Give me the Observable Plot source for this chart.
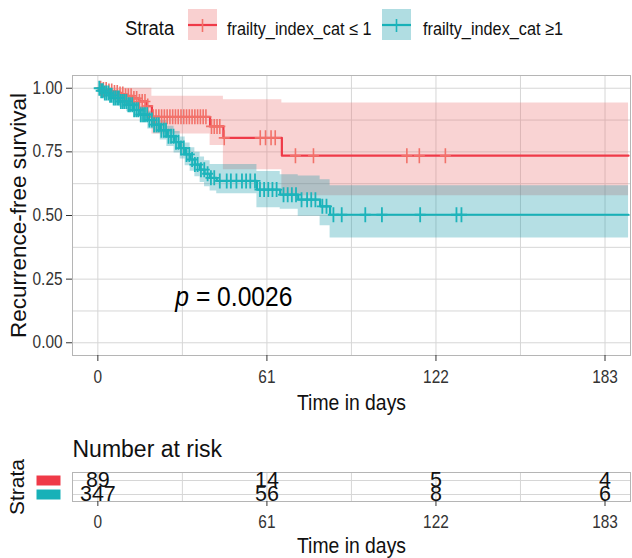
<!DOCTYPE html>
<html>
<head>
<meta charset="utf-8">
<script src="https://cdn.jsdelivr.net/npm/d3@7"></script>
<script src="https://cdn.jsdelivr.net/npm/@observablehq/plot@0.6"></script>
<style>
  body { margin: 0; background: #fff; }
  #root { position: relative; width: 632px; height: 558px; overflow: hidden; background: #fff; }
  #root > * { position: absolute; left: 0; }
</style>
</head>
<body>
<div id="root"></div>
<script>
const FONT = '"Liberation Sans", Arial, Helvetica, sans-serif';
const SQUISH = 0.88; // reference text is horizontally condensed

// ---- data ----
const strataLabels = ["frailty_index_cat ≤ 1", "frailty_index_cat ≥1"];
const lineColors   = ["#EF3A48", "#17B1B8"];
const markColors   = ["#F2726A", "#1DB4BB"];
const bandColors   = ["#EB6C6C", "#0A96A6"];

// stratum 1: frailty_index_cat <= 1
const redTime  = [0, 2, 4, 6, 8, 10, 12.5, 15, 17.5, 19.5, 40.5, 45.3, 66.4];
const redSurv  = [1.0, 0.995, 0.989, 0.983, 0.977, 0.97, 0.96, 0.948, 0.93, 0.888, 0.85, 0.805, 0.735];
const redUpper = [1.0, 1.0, 1.0, 1.0, 1.0, 1.0, 1.0, 1.0, 1.0, 0.968, 0.968, 0.955, 0.942];
const redLower = [1.0, 0.985, 0.972, 0.962, 0.952, 0.938, 0.922, 0.905, 0.882, 0.82, 0.775, 0.68, 0.578];
const redCensor = [1, 2, 3, 4, 5, 6, 7, 8, 9, 10, 11, 12, 13, 14, 15, 16, 17, 18,
  20, 21, 22, 23, 24, 25, 26, 27, 28, 29, 30, 31, 32, 33, 34, 35, 36, 37, 38, 39,
  41, 42, 43, 44, 45.6, 58.6, 60.5, 62.5, 64, 71.3, 77.8, 111.5, 116, 125.4];

// stratum 2: frailty_index_cat >= 1
const tealTime  = [0, 1, 2, 4, 5.6, 8, 10.4, 13, 15.3, 18, 20.1, 22.5, 24.9, 27.5, 29.7, 31.5, 33.3, 35, 36.9, 38.5, 40.5, 42.9, 57.4, 65.8, 72.3, 80.2, 83.8];
const tealSurv  = [1.0, 0.99, 0.981, 0.972, 0.962, 0.948, 0.935, 0.915, 0.896, 0.875, 0.857, 0.835, 0.811, 0.788, 0.765, 0.74, 0.72, 0.70, 0.68, 0.664, 0.648, 0.636, 0.602, 0.582, 0.562, 0.536, 0.503];
const tealUpper = [1.0, 1.0, 0.995, 0.99, 0.983, 0.972, 0.962, 0.945, 0.928, 0.91, 0.893, 0.873, 0.851, 0.83, 0.808, 0.785, 0.766, 0.748, 0.73, 0.715, 0.70, 0.70, 0.673, 0.66, 0.655, 0.64, 0.617];
const tealLower = [1.0, 0.98, 0.967, 0.954, 0.941, 0.924, 0.908, 0.885, 0.864, 0.84, 0.821, 0.797, 0.771, 0.746, 0.722, 0.695, 0.674, 0.652, 0.63, 0.613, 0.596, 0.585, 0.53, 0.525, 0.497, 0.46, 0.412];
const tealCensor = [0.5, 1.2, 1.8, 2.5, 3.1, 3.8, 4.4, 5, 5.7, 6.3, 7, 7.6, 8.3, 9, 9.6, 10.3, 11, 11.6, 12.4, 13.1,
  13.9, 14.6, 15.5, 16.3, 17, 17.8, 18.6, 19.5, 20.3, 21.2, 22, 22.9, 23.8, 24.6, 25.5, 26.4, 27.3, 28.2, 29.1, 30,
  31, 32, 33, 34, 35, 36, 37.2, 38.4, 39.6, 40.8, 42, 44, 46.5, 48, 50, 52, 53.5, 55, 56.7, 58.5, 60, 61.5, 63, 64.5,
  67, 68.5, 70, 71.5, 73.5, 75.5, 77, 78.5, 81, 82.5, 85, 88, 96.5, 102.5, 116.3, 129.4, 131.2];

const lastFollowUp = 191.5;

const riskTimes = [0, 61, 122, 183];
const riskRed   = [89, 14, 5, 4];
const riskTeal  = [347, 56, 8, 6];

const xTicks = [0, 61, 122, 183];
const xGrid  = [0, 30.5, 61, 91.5, 122, 152.5, 183];
const yTicks = [0, 0.25, 0.5, 0.75, 1];
const yGrid  = [0, 0.125, 0.25, 0.375, 0.5, 0.625, 0.75, 0.875, 1];
const xDomain = [-9.15, 192.2];
const yDomain = [-0.05, 1.05];

const xTitle = "Time in days";
const yTitle = "Recurrence-free survival";
const riskTitle = "Number at risk";
const legendTitle = "Strata";
const pValueText = "p = 0.0026";
const pValuePos = {t: 28, s: 0.18};

// ---- build tables ----
function curveRows(times, surv, up, lo, label) {
  const rows = times.map((t, i) => ({t, s: surv[i], upper: up[i], lower: lo[i], strata: label}));
  const last = rows[rows.length - 1];
  rows.push({...last, t: lastFollowUp});
  return rows;
}
function censorRows(times, ctimes, surv, label) {
  return ctimes.map(t => ({t, s: surv[Math.max(0, d3.bisectRight(times, t) - 1)], strata: label}));
}
const redRows  = curveRows(redTime, redSurv, redUpper, redLower, strataLabels[0]);
const tealRows = curveRows(tealTime, tealSurv, tealUpper, tealLower, strataLabels[1]);
const redCens  = censorRows(redTime, redCensor, redSurv, strataLabels[0]);
const tealCens = censorRows(tealTime, tealCensor, tealSurv, strataLabels[1]);

const riskRows = [
  ...riskTimes.map((t, i) => ({t, n: riskRed[i], strata: strataLabels[0]})),
  ...riskTimes.map((t, i) => ({t, n: riskTeal[i], strata: strataLabels[1]}))
];

// censor "+" symbol (taller than wide, as in the reference)
const plusSymbol = {
  draw(ctx) {
    ctx.moveTo(-5.5, 0); ctx.lineTo(5.5, 0);
    ctx.moveTo(0, -7.5); ctx.lineTo(0, 7.5);
  }
};
const keySymbol = {
  draw(ctx) { ctx.rect(-12, -5, 24, 10); }
};

// horizontally condense non-rotated texts around their anchor
function squish(svgNode, skip) {
  d3.select(svgNode).selectAll("text").each(function() {
    if (skip && skip(this)) return;
    const t = this.getAttribute("transform") || "";
    if (/rotate/.test(t)) return;
    const bb = this.getBBox();
    const anchor = getComputedStyle(this).textAnchor;
    const ax = anchor === "middle" ? bb.x + bb.width / 2 : anchor === "end" ? bb.x + bb.width : bb.x;
    this.setAttribute("transform", `${t} translate(${ax},0) scale(${SQUISH},1) translate(${-ax},0)`);
  });
}

const root = document.getElementById("root");

// ---- legend (above) ----
const leg = d3.create("svg").attr("width", 632).attr("height", 55).style("top", "0px");
leg.append("text").attr("x", 125).attr("y", 35).attr("font-family", FONT).attr("font-size", 21)
  .attr("fill", "#111").text(legendTitle);
const legX = [188, 382];
const legTextX = [227, 423];
strataLabels.forEach((lab, i) => {
  const g = leg.append("g").attr("transform", `translate(${legX[i]},9)`);
  g.append("rect").attr("width", 29).attr("height", 31).attr("fill", bandColors[i]).attr("fill-opacity", 0.32);
  g.append("line").attr("x1", 0).attr("x2", 29).attr("y1", 16).attr("y2", 16)
    .attr("stroke", lineColors[i]).attr("stroke-width", 2.2);
  g.append("line").attr("x1", 14.5).attr("x2", 14.5).attr("y1", 10).attr("y2", 23)
    .attr("stroke", markColors[i]).attr("stroke-width", 1.6);
  leg.append("text").attr("x", legTextX[i]).attr("y", 35).attr("font-family", FONT).attr("font-size", 18.5)
    .attr("fill", "#111").text(lab);
});
root.appendChild(leg.node());
squish(leg.node());

// ---- main survival plot ----
const main = Plot.plot({
  width: 632, height: 365,
  marginTop: 20, marginBottom: 65, marginLeft: 72, marginRight: 2,
  x: {domain: xDomain},
  y: {domain: yDomain},
  style: {fontFamily: FONT, fontSize: "17.5px", color: "#333", background: "white", overflow: "visible"},
  marks: [
    Plot.gridX(xGrid, {stroke: "#d6d6d6", strokeOpacity: 1, strokeWidth: 1}),
    Plot.gridY(yGrid, {stroke: "#d6d6d6", strokeOpacity: 1, strokeWidth: 1}),
    Plot.areaY(redRows, {x: "t", y1: "lower", y2: "upper", curve: "step-after", fill: bandColors[0], fillOpacity: 0.3}),
    Plot.areaY(tealRows, {x: "t", y1: "lower", y2: "upper", curve: "step-after", fill: bandColors[1], fillOpacity: 0.3}),
    Plot.line(redRows, {x: "t", y: "s", curve: "step-after", stroke: lineColors[0], strokeWidth: 2.2}),
    Plot.line(tealRows, {x: "t", y: "s", curve: "step-after", stroke: lineColors[1], strokeWidth: 2.2}),
    Plot.dot(redCens, {x: "t", y: "s", symbol: plusSymbol, fill: "none", stroke: markColors[0], strokeWidth: 1.6}),
    Plot.dot(tealCens, {x: "t", y: "s", symbol: plusSymbol, fill: "none", stroke: markColors[1], strokeWidth: 1.8}),
    Plot.frame({stroke: "#b5b5b5"}),
    Plot.axisX({ticks: xTicks, tickFormat: d => String(d), tickSize: 6, tickPadding: 9, label: null, fontSize: 17.5}),
    Plot.axisY({ticks: yTicks, tickFormat: d3.format(".2f"), tickSize: 6, tickPadding: 4, label: null, fontSize: 17.5}),
    Plot.text([xTitle], {frameAnchor: "bottom", dy: 47, textAnchor: "middle", lineAnchor: "middle", fontSize: 22, fill: "#111"}),
    Plot.text([yTitle], {frameAnchor: "left", dx: -54, rotate: -90, textAnchor: "middle", lineAnchor: "middle", fontSize: 22.5, fill: "#111"}),
    Plot.text([pValueText], {x: () => pValuePos.t, y: () => pValuePos.s, textAnchor: "start", lineAnchor: "middle", fontSize: 28, fill: "#000"})
  ]
});
main.style.top = "55px";
d3.select(main).selectAll("text").filter(function() { return this.textContent === pValueText; })
  .each(function() {
    const el = d3.select(this);
    el.text(null);
    el.append("tspan").attr("font-style", "italic").text("p");
    el.append("tspan").text(pValueText.slice(1));
  });
root.appendChild(main);
squish(main);

// ---- number at risk table ----
const risk = Plot.plot({
  width: 632, height: 133,
  marginTop: 47, marginBottom: 57, marginLeft: 72, marginRight: 2,
  x: {domain: xDomain},
  y: {type: "point", domain: strataLabels, padding: 0.5},
  style: {fontFamily: FONT, fontSize: "17.5px", color: "#333", background: "transparent", overflow: "visible"},
  marks: [
    Plot.gridX(xGrid, {stroke: "#d6d6d6", strokeOpacity: 1}),
    Plot.gridY(strataLabels, {y: d => d, stroke: "#d6d6d6", strokeOpacity: 1}),
    Plot.frame({stroke: "#b5b5b5"}),
    Plot.text(riskRows, {x: "t", y: "strata", text: "n", fontSize: 21.5, fill: "#111", lineAnchor: "middle"}),
    Plot.dot(strataLabels, {y: d => d, frameAnchor: "left", dx: -24, symbol: keySymbol, fill: (d, i) => lineColors[i], stroke: "none"}),
    Plot.axisX({ticks: xTicks, tickFormat: d => String(d), tickSize: 5, tickPadding: 9, label: null, fontSize: 17.5}),
    Plot.axisY({ticks: [], label: null, tickSize: 0}),
    Plot.text([riskTitle], {frameAnchor: "top-left", dy: -22.5, lineAnchor: "middle", textAnchor: "start", fontSize: 23, fill: "#111"}),
    Plot.text([legendTitle], {frameAnchor: "left", dx: -55, rotate: -90, textAnchor: "middle", lineAnchor: "middle", fontSize: 21, fill: "#111"}),
    Plot.text([xTitle], {frameAnchor: "bottom", dy: 44, textAnchor: "middle", lineAnchor: "middle", fontSize: 22, fill: "#111"})
  ]
});
risk.style.top = "425px";
root.appendChild(risk);
squish(risk, el => el.textContent === riskTitle ||
  (el.parentNode.getAttribute("aria-label") === "text" && el.textContent !== xTitle));
</script>
</body>
</html>
